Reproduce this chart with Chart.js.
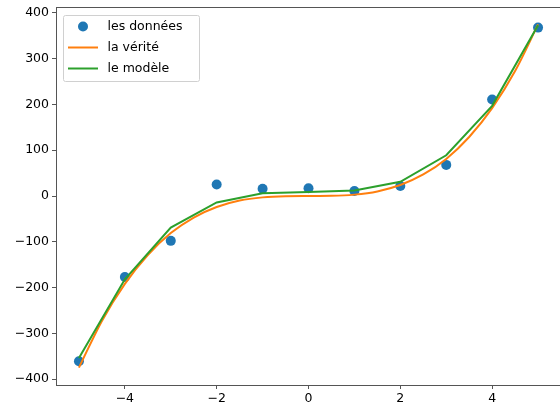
<!DOCTYPE html>
<html>
<head>
<meta charset="utf-8">
<script src="https://cdn.jsdelivr.net/npm/chart.js@4/dist/chart.umd.min.js"></script>
<style>
  html, body { margin: 0; padding: 0; background: #fff; overflow: hidden; }
  #wrap { width: 566px; height: 408px; }
</style>
</head>
<body>
<div id="wrap"><canvas id="c" width="566" height="408"></canvas></div>
<script>
// data
const xs = [-5, -4, -3, -2, -1, 0, 1, 2, 3, 4, 5];
const donnees = [-361, -177, -98, 25, 16, 17, 11, 22, 68, 211, 368];
const modele = [-354, -182, -69, -14, 6, 9, 12, 31, 89, 197, 373];

const xsFine = [-5, -4.5, -4, -3.5, -3, -2.5, -2, -1.5, -1, -0.5, 0,
  0.5, 1, 1.5, 2, 2.5, 3, 3.5, 4, 4.5, 5];
const verite = [-375, -273, -192, -129, -81, -47, -24, -10, -3, -0.4, 0,
  0.4, 3, 10, 24, 47, 81, 129, 192, 273, 375];

const xTicks = [-4, -2, 0, 2, 4];
const yTicks = [-400, -300, -200, -100, 0, 100, 200, 300, 400];

const labels = ["les données", "la vérité", "le modèle"];
const colors = ["#1f77b4", "#ff7f0e", "#2ca02c"];

const FONT = "DejaVu Sans";
const fmt = (v) => (v < 0 ? "\u2212" + Math.abs(v) : String(v));

const pts = (x, y) => x.map((v, i) => ({ x: v, y: y[i] }));

// top/right spines
const frame = {
  id: "frame",
  afterDatasetsDraw(chart) {
    const { ctx, chartArea: a } = chart;
    ctx.save();
    ctx.strokeStyle = "#555";
    ctx.lineWidth = 1;
    ctx.beginPath();
    ctx.moveTo(a.left, a.top + 0.5);
    ctx.lineTo(a.right, a.top + 0.5);
    ctx.lineTo(a.right, a.bottom);
    ctx.stroke();
    ctx.restore();
  },
};

// matplotlib style legend, upper left
const legendBox = {
  id: "legendBox",
  afterDraw(chart) {
    const ctx = chart.ctx;
    const x0 = 63.5, y0 = 15.5, w = 136, h = 66;
    ctx.save();
    ctx.fillStyle = "rgba(255,255,255,0.8)";
    ctx.strokeStyle = "#d0d0d0";
    ctx.lineWidth = 1;
    ctx.beginPath();
    ctx.roundRect(x0, y0, w, h, 2);
    ctx.fill();
    ctx.stroke();

    const rows = [26.5, 47.5, 68.5];
    ctx.font = "12.5px '" + FONT + "'";
    ctx.textBaseline = "middle";
    rows.forEach((y, i) => {
      if (i === 0) {
        ctx.fillStyle = colors[0];
        ctx.beginPath();
        ctx.arc(83, y, 5, 0, Math.PI * 2);
        ctx.fill();
      } else {
        ctx.strokeStyle = colors[i];
        ctx.lineWidth = 2;
        ctx.beginPath();
        ctx.moveTo(68, y);
        ctx.lineTo(98, y);
        ctx.stroke();
      }
      ctx.fillStyle = "#000";
      ctx.fillText(labels[i], 107.5, y + 0.5);
    });
    ctx.restore();
  },
};

new Chart(document.getElementById("c"), {
  type: "scatter",
  data: {
    datasets: [
      {
        label: labels[0],
        data: pts(xs, donnees),
        backgroundColor: colors[0],
        borderColor: colors[0],
        pointRadius: 5,
        pointBorderWidth: 0,
        showLine: false,
        order: 3,
      },
      {
        label: labels[1],
        data: pts(xsFine, verite),
        borderColor: colors[1],
        borderWidth: 2,
        pointRadius: 0,
        showLine: true,
        cubicInterpolationMode: "monotone",
        order: 2,
      },
      {
        label: labels[2],
        data: pts(xs, modele),
        borderColor: colors[2],
        borderWidth: 2,
        pointRadius: 0,
        showLine: true,
        tension: 0,
        order: 1,
      },
    ],
  },
  options: {
    responsive: false,
    animation: false,
    layout: { padding: { top: 7, right: 4, left: 0, bottom: 0 } },
    plugins: {
      legend: { display: false },
      tooltip: { enabled: false },
    },
    scales: {
      x: {
        type: "linear",
        min: -5.5,
        max: 5.5,
        afterBuildTicks: (s) => { s.ticks = xTicks.map((v) => ({ value: v })); },
        afterFit: (s) => {
          s.height = 23;
          s.paddingLeft = 0;
          s.paddingRight = 0;
        },
        border: { color: "#555", width: 1 },
        grid: { drawOnChartArea: false, drawTicks: true, tickLength: 4, color: "#555" },
        ticks: {
          color: "#000",
          font: { family: FONT, size: 12.5 },
          padding: 2,
          maxRotation: 0,
          autoSkip: false,
          callback: (v) => fmt(v),
        },
      },
      y: {
        type: "linear",
        min: -413,
        max: 413,
        afterBuildTicks: (s) => { s.ticks = yTicks.map((v) => ({ value: v })); },
        afterFit: (s) => {
          s.width = 56;
          s.paddingTop = 0;
          s.paddingBottom = 0;
        },
        border: { color: "#555", width: 1 },
        grid: { drawOnChartArea: false, drawTicks: true, tickLength: 4, color: "#555" },
        ticks: {
          color: "#000",
          font: { family: FONT, size: 12.5 },
          padding: 3,
          autoSkip: false,
          callback: (v) => fmt(v),
        },
      },
    },
  },
  plugins: [frame, legendBox],
});
</script>
</body>
</html>
